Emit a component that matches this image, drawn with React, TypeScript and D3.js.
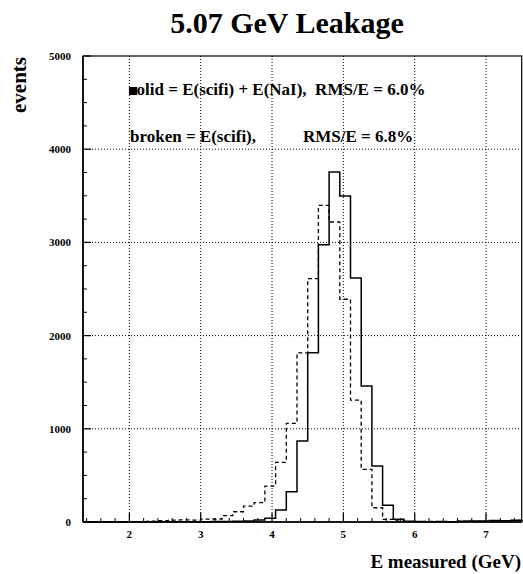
import React from "react";
import * as d3 from "d3";

// Histogram binning (GeV)
const binLow = 1.35;
const binWidth = 0.15;

// solid = E(scifi) + E(NaI)
const solidCounts = [
  0, 0, 2, 0, 1, 2, 1, 3, 2, 3, 4, 3, 5, 6, 8,
  10, 21, 40, 129, 325, 868, 1815, 2976, 3755, 3497, 2618, 1458, 600, 180, 29,
  8, 5, 3, 6, 4, 8, 10, 12, 15, 14, 18,
];

// broken = E(scifi)
const brokenCounts = [
  0, 2, 0, 3, 3, 5, 10, 15, 20, 22, 21, 30, 32, 68, 110,
  171, 207, 386, 640, 1058, 1815, 2612, 3398, 3219, 2390, 1308, 565, 153, 28, 12,
  5, 4, 6, 3, 5, 8, 6, 10, 12, 15, 16,
];

const xMajorTicks = [2, 3, 4, 5, 6, 7];
const yMajorTicks = [0, 1000, 2000, 3000, 4000, 5000];

const titleText = "5.07 GeV Leakage";
const xTitle = "E measured (GeV)";
const yTitle = "events";
const legendLine1 = "solid = E(scifi) + E(NaI),  RMS/E = 6.0%";
const legendLine2a = "broken = E(scifi),";
const legendLine2b = "RMS/E = 6.8%";

const W = 523;
const H = 574;
const FONT = "'Liberation Serif', 'Times New Roman', serif";

export default function App() {
  const left = 83;
  const right = 521.7;
  const top = 56;
  const bottom = 522;
  const xMax = binLow + binWidth * solidCounts.length;
  const x = d3.scaleLinear().domain([binLow, xMax]).range([left, right]);
  const y = d3.scaleLinear().domain([0, 5000]).range([bottom, top]);

  const stepPts = (counts: number[]) => {
    const pts: [number, number][] = [[binLow, 0]];
    counts.forEach((c, i) => {
      const a = binLow + i * binWidth;
      pts.push([a, c]);
      pts.push([a + binWidth, c]);
    });
    pts.push([xMax, 0]);
    return pts;
  };
  const line = d3
    .line<[number, number]>()
    .x((d) => x(d[0]))
    .y((d) => y(d[1]));

  const xMinor = d3.range(1.4, xMax, 0.2).filter((v) => Math.abs(v - Math.round(v)) > 1e-6);
  const yMinor = d3.range(250, 5000, 250).filter((v) => v % 1000 !== 0);

  return (
    <svg
      width={W}
      height={H}
      style={{ position: "absolute", left: 0, top: 0, background: "#fff" }}
      fontFamily={FONT}
    >
      <rect x={0} y={0} width={W} height={H} fill="#fff" />
      {/* grid */}
      {xMajorTicks.map((t) => (
        <line key={"gx" + t} x1={x(t)} x2={x(t)} y1={top} y2={bottom} stroke="#000" strokeWidth={1} strokeDasharray="1,2" />
      ))}
      {yMajorTicks.filter((t) => t > 0 && t < 5000).map((t) => (
        <line key={"gy" + t} x1={left} x2={right} y1={y(t)} y2={y(t)} stroke="#000" strokeWidth={1} strokeDasharray="1,2" />
      ))}
      {/* histograms */}
      <path d={line(stepPts(brokenCounts)) || ""} fill="none" stroke="#000" strokeWidth={1.3} strokeDasharray="4,3" />
      <path d={line(stepPts(solidCounts)) || ""} fill="none" stroke="#000" strokeWidth={1.5} />
      {/* frame */}
      <rect x={left} y={top} width={right - left} height={bottom - top} fill="none" stroke="#000" strokeWidth={1.2} />
      <line x1={left} x2={left} y1={top} y2={bottom} stroke="#000" strokeWidth={1.6} />
      <line x1={left} x2={right} y1={bottom} y2={bottom} stroke="#000" strokeWidth={1.6} />
      {/* y ticks */}
      {yMajorTicks.map((t) => (
        <line key={"ytM" + t} x1={left} x2={left + 8} y1={y(t)} y2={y(t)} stroke="#000" strokeWidth={1.2} />
      ))}
      {yMinor.map((t) => (
        <line key={"ytm" + t} x1={left} x2={left + 4} y1={y(t)} y2={y(t)} stroke="#000" strokeWidth={1} />
      ))}
      {yMajorTicks.map((t) => (
        <text key={"yl" + t} x={71} y={y(t) + 4} fontSize={11} fontWeight="bold" textAnchor="end">
          {t}
        </text>
      ))}
      {/* x ticks */}
      {xMajorTicks.map((t) => (
        <line key={"xtM" + t} x1={x(t)} x2={x(t)} y1={bottom} y2={bottom - 9} stroke="#000" strokeWidth={1.2} />
      ))}
      {xMinor.map((t, i) => (
        <line key={"xtm" + i} x1={x(t)} x2={x(t)} y1={bottom} y2={bottom - 4} stroke="#000" strokeWidth={1} />
      ))}
      {xMajorTicks.map((t) => (
        <text key={"xl" + t} x={x(t)} y={537.5} fontSize={11} fontWeight="bold" textAnchor="middle">
          {t}
        </text>
      ))}
      {/* titles */}
      <text x={287} y={33} fontSize={30} fontWeight="bold" textAnchor="middle">
        {titleText}
      </text>
      <text x={521} y={568} fontSize={19} fontWeight="bold" textAnchor="end">
        {xTitle}
      </text>
      <text transform="translate(25.5,57) rotate(-90)" fontSize={21} fontWeight="bold" textAnchor="end">
        {yTitle}
      </text>
      {/* legend */}
      <text x={130} y={95} fontSize={17} fontWeight="bold" xmlSpace="preserve" style={{ whiteSpace: "pre" }}>
        {legendLine1}
      </text>
      <rect x={129} y={87} width={8} height={8} fill="#000" />
      <text x={130} y={141.7} fontSize={17} fontWeight="bold">
        {legendLine2a}
      </text>
      <text x={303} y={141.7} fontSize={17} fontWeight="bold">
        {legendLine2b}
      </text>
    </svg>
  );
}
